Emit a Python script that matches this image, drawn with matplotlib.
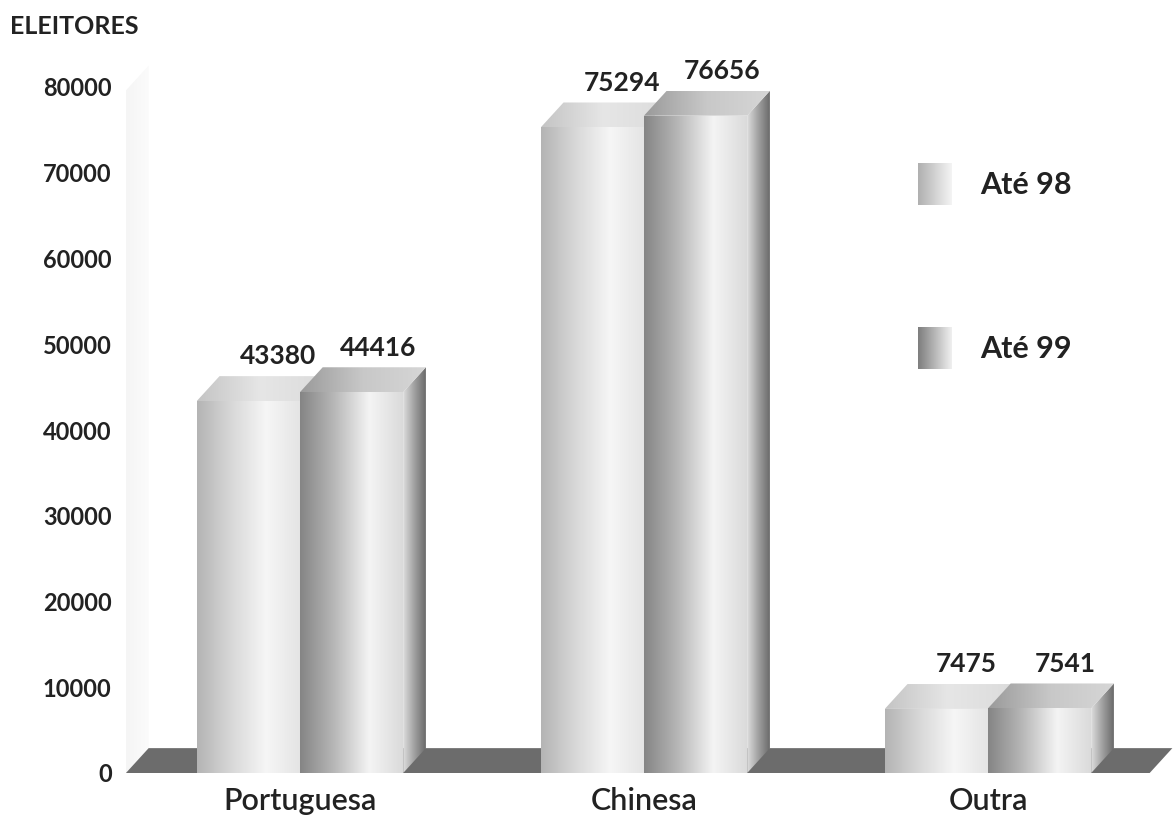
import numpy as np
import matplotlib
matplotlib.use("Agg")
import matplotlib.pyplot as plt
from matplotlib.patches import Polygon
from matplotlib.colors import LinearSegmentedColormap

# ---- data ----
categories = ["Portuguesa", "Chinesa", "Outra"]
series_names = ["Até 98", "Até 99"]
ate98 = [43380, 75294, 7475]
ate99 = [44416, 76656, 7541]
yticks = [0, 10000, 20000, 30000, 40000, 50000, 60000, 70000, 80000]

# ---- geometry (data units) ----
W = 0.30          # front face width of one bar
DX = 0.066        # depth offset in x
DY = 2900         # depth offset in y
FONT = "Lato"
TXT = "#222222"

# gradients
front98 = LinearSegmentedColormap.from_list("f98", ["#b4b4b4", "#d8d8d8", "#f6f6f6", "#e4e4e4"])
front99 = LinearSegmentedColormap.from_list("f99", ["#858585", "#b8b8b8", "#f4f4f4", "#dadada"])
side99 = LinearSegmentedColormap.from_list("s99", ["#dedede", "#a0a0a0", "#6a6a6a"])
top98 = LinearSegmentedColormap.from_list("t98", ["#c4c4c4", "#e6e6e6", "#dcdcdc"])
top99 = LinearSegmentedColormap.from_list("t99", ["#9a9a9a", "#c8c8c8", "#d6d6d6"])
wall = LinearSegmentedColormap.from_list("wall", ["#f5f5f5", "#fbfbfb"])
swatch98 = LinearSegmentedColormap.from_list("sw98", ["#b0b0b0", "#f4f4f4"])
swatch99 = LinearSegmentedColormap.from_list("sw99", ["#7e7e7e", "#f0f0f0"])


def grad_poly(ax, verts, cmap, z):
    poly = Polygon(verts, closed=True, facecolor="none", edgecolor="none", zorder=z)
    ax.add_patch(poly)
    xs = [v[0] for v in verts]
    ys = [v[1] for v in verts]
    g = np.linspace(0, 1, 256).reshape(1, -1)
    im = ax.imshow(g, cmap=cmap, extent=(min(xs), max(xs), min(ys), max(ys)),
                   aspect="auto", origin="lower", interpolation="bicubic", zorder=z)
    im.set_clip_path(poly)


def px(x, y):
    # pixel (from top-left) -> figure fraction
    return x / 1176, 1 - y / 823


fig = plt.figure(figsize=(11.76, 8.23), dpi=100)
l, b = px(120, 773)
r, t = px(1176, 55)
ax = fig.add_axes([l, b, r - l, t - b])

xmin, xmax = (120 - 300) / 344, (1176 - 300) / 344
ymax = (773 - 55) / 0.008575

# left wall and floor
x_fl, x_fr = -0.506, 2.47
grad_poly(ax, [(x_fl, 0), (x_fl + DX, DY), (x_fl + DX, 82500), (x_fl, 82500 - DY)], wall, 0.5)
floor = Polygon([(x_fl, 0), (x_fr, 0), (x_fr + DX, DY), (x_fl + DX, DY)],
                closed=True, facecolor="#6c6c6c", edgecolor="none", zorder=1, clip_on=False)
ax.add_patch(floor)

x = np.arange(len(categories))
for i, c in enumerate(x):
    h1, h2 = ate98[i], ate99[i]
    z = 2 + i * 10
    # bar Até 98
    x0 = c - W
    grad_poly(ax, [(x0, 0), (x0 + W, 0), (x0 + W, h1), (x0, h1)], front98, z)
    grad_poly(ax, [(x0, h1), (x0 + W, h1), (x0 + W + DX, h1 + DY), (x0 + DX, h1 + DY)], top98, z + 1)
    # bar Até 99
    x1 = c
    grad_poly(ax, [(x1, 0), (x1 + W, 0), (x1 + W, h2), (x1, h2)], front99, z + 2)
    grad_poly(ax, [(x1 + W, 0), (x1 + W + DX, DY), (x1 + W + DX, h2 + DY), (x1 + W, h2)], side99, z + 2)
    grad_poly(ax, [(x1, h2), (x1 + W, h2), (x1 + W + DX, h2 + DY), (x1 + DX, h2 + DY)], top99, z + 3)
    # value labels
    ax.text(x0 + W / 2 + DX + 0.02, h1 + DY + 900, f"{h1}", ha="center", va="bottom",
            fontsize=19, fontweight="bold", color=TXT, family=FONT, zorder=50)
    ax.text(x1 + W / 2 + DX + 0.01, h2 + DY + 900, f"{h2}", ha="center", va="bottom",
            fontsize=19, fontweight="bold", color=TXT, family=FONT, zorder=50)

ax.set_xlim(xmin, xmax)
ax.set_ylim(0, ymax)
ax.set_xticks(x)
ax.set_xticklabels(categories, fontsize=22, fontweight="semibold", family=FONT, color=TXT)
ax.set_yticks(yticks)
ax.set_yticklabels([str(v) for v in yticks], fontsize=17, fontweight="bold", family=FONT, color=TXT)
ax.tick_params(length=0)
ax.tick_params(axis="x", pad=10)
ax.tick_params(axis="y", pad=6)
for s in ax.spines.values():
    s.set_visible(False)

fig.text(*px(10, 27), "ELEITORES", ha="left", va="center", fontsize=18,
         fontweight="bold", family=FONT, color=TXT)

# legend
for name, cmap, ytop in [(series_names[0], swatch98, 163), (series_names[1], swatch99, 327)]:
    sl, sb = px(918, ytop + 42)
    sw = fig.add_axes([sl, sb, 34 / 1176, 42 / 823])
    sw.imshow(np.linspace(0, 1, 64).reshape(1, -1), cmap=cmap, aspect="auto", interpolation="bicubic")
    sw.axis("off")
    fig.text(*px(980, ytop + 22), name, ha="left", va="center", fontsize=22,
             fontweight="bold", family=FONT, color=TXT)

fig.savefig("out.png", dpi=100)
